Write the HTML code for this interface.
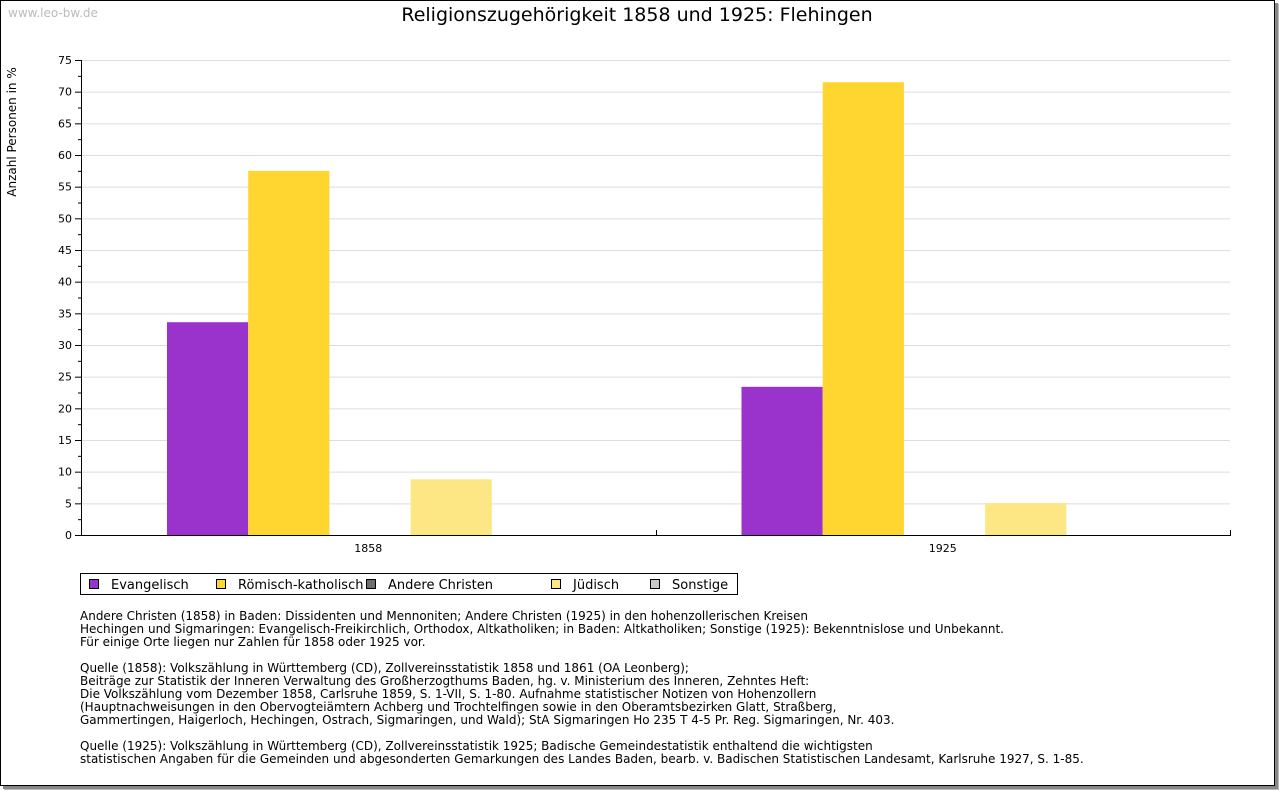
<!DOCTYPE html>
<html><head><meta charset="utf-8"><style>
body{margin:0;background:#fff;font-family:"DejaVu Sans","Liberation Sans",sans-serif}
#frame{position:absolute;left:0;top:0;width:1273px;height:784px;border:1px solid #000;box-shadow:3px 3px 0 #888, 4px 4px 0 #bbb;background:#fff}
svg{position:absolute;left:0;top:0}
#notes{position:absolute;left:80px;top:610px;font-size:12px;line-height:13px;color:#000;white-space:pre}
</style></head><body>
<div id="frame"></div>
<svg id="chart" width="1280" height="791">
<text x="8" y="17" font-size="12" fill="#bbb">www.leo-bw.de</text>
<text x="637" y="21" font-size="19" text-anchor="middle">Religionszugehörigkeit 1858 und 1925: Flehingen</text>
<text transform="translate(16,132) rotate(-90)" font-size="12" text-anchor="middle">Anzahl Personen in %</text>
<g id="grid"></g><g id="bars"></g><g id="axes"></g>
<g>
<rect x="80.5" y="573.5" width="657" height="21" fill="#fff" stroke="#000"/>
<g id="legend"></g>
</g>
</svg>
<div id="notes">Andere Christen (1858) in Baden: Dissidenten und Mennoniten; Andere Christen (1925) in den hohenzollerischen Kreisen
Hechingen und Sigmaringen: Evangelisch-Freikirchlich, Orthodox, Altkatholiken; in Baden: Altkatholiken; Sonstige (1925): Bekenntnislose und Unbekannt.
Für einige Orte liegen nur Zahlen für 1858 oder 1925 vor.

Quelle (1858): Volkszählung in Württemberg (CD), Zollvereinsstatistik 1858 und 1861 (OA Leonberg);
Beiträge zur Statistik der Inneren Verwaltung des Großherzogthums Baden, hg. v. Ministerium des Inneren, Zehntes Heft:
Die Volkszählung vom Dezember 1858, Carlsruhe 1859, S. 1-VII, S. 1-80. Aufnahme statistischer Notizen von Hohenzollern
(Hauptnachweisungen in den Obervogteiämtern Achberg und Trochtelfingen sowie in den Oberamtsbezirken Glatt, Straßberg,
Gammertingen, Haigerloch, Hechingen, Ostrach, Sigmaringen, und Wald); StA Sigmaringen Ho 235 T 4-5 Pr. Reg. Sigmaringen, Nr. 403.

Quelle (1925): Volkszählung in Württemberg (CD), Zollvereinsstatistik 1925; Badische Gemeindestatistik enthaltend die wichtigsten
statistischen Angaben für die Gemeinden und abgesonderten Gemarkungen des Landes Baden, bearb. v. Badischen Statistischen Landesamt, Karlsruhe 1927, S. 1-85.</div>
<script>
const categories=["1858","1925"];
const seriesNames=["Evangelisch","Römisch-katholisch","Andere Christen","Jüdisch","Sonstige"];
const seriesColors=["#9933cc","#ffd52f","#6e6e6e","#fde784","#c8c8c8"];
const evangelisch=[33.6,23.4];
const katholisch=[57.5,71.5];
const andere=[0,0];
const juedisch=[8.8,5.05];
const sonstige=[0,0];
const yTicks=[0,5,10,15,20,25,30,35,40,45,50,55,60,65,70,75];
const series=[evangelisch,katholisch,andere,juedisch,sonstige];
const NS="http://www.w3.org/2000/svg";
const x0=81,x1=1230,y0=535,y1=60,yMax=75;
const y=v=>y0-(v/yMax)*(y0-y1);
const gw=(x1-x0)/categories.length, bw=81.2, pad=86;
function mk(t,a,p){const e=document.createElementNS(NS,t);for(const k in a)e.setAttribute(k,a[k]);p.appendChild(e);return e;}
const grid=document.getElementById('grid'),axes=document.getElementById('axes'),bars=document.getElementById('bars'),leg=document.getElementById('legend');
yTicks.forEach(t=>{
 if(t>0){const l=mk('line',{x1:x0,x2:x1,y1:y(t)+.5,y2:y(t)+.5,stroke:'#ddd'},grid);}
 mk('line',{x1:x0-6,x2:x0,y1:y(t)+.5,y2:y(t)+.5,stroke:'#000'},axes);
 if(t<75)mk('line',{x1:x0-3,x2:x0,y1:y(t+2.5)+.5,y2:y(t+2.5)+.5,stroke:'#000'},axes);
 const tx=mk('text',{x:x0-9,y:y(t)+4,'font-size':11,'text-anchor':'end'},axes);tx.textContent=t;
 
});
mk('line',{x1:x0+.5,x2:x0+.5,y1:y1,y2:y0+1,stroke:'#000'},axes);
mk('line',{x1:x0,x2:x1+1,y1:y0+.5,y2:y0+.5,stroke:'#000'},axes);
for(let i=1;i<=categories.length;i++){const xx=Math.round(x0+gw*i)+.5;mk('line',{x1:xx,x2:xx,y1:y0-5,y2:y0,stroke:'#000'},axes);}
categories.forEach((c,i)=>{
 const tx=mk('text',{x:x0+gw*(i+.5),y:y0+17,'font-size':11,'text-anchor':'middle'},axes);tx.textContent=c;
 
 series.forEach((s,j)=>{ if(s[i]<=0)return;
  const r=mk('rect',{x:x0+gw*i+pad+bw*j,y:y(s[i]),width:bw,height:y0-y(s[i]),fill:seriesColors[j]},bars);
  
 });
});
const lx=[89,216,366,551,650];
seriesNames.forEach((n,j)=>{
 const g=mk('g',{},leg);
 mk('rect',{x:lx[j]+.5,y:579.5,width:9,height:9,fill:seriesColors[j],stroke:'#000'},g);
 const t=mk('text',{x:lx[j]+22,y:589,'font-size':13},g);t.textContent=n;
});
</script>
</body></html>
